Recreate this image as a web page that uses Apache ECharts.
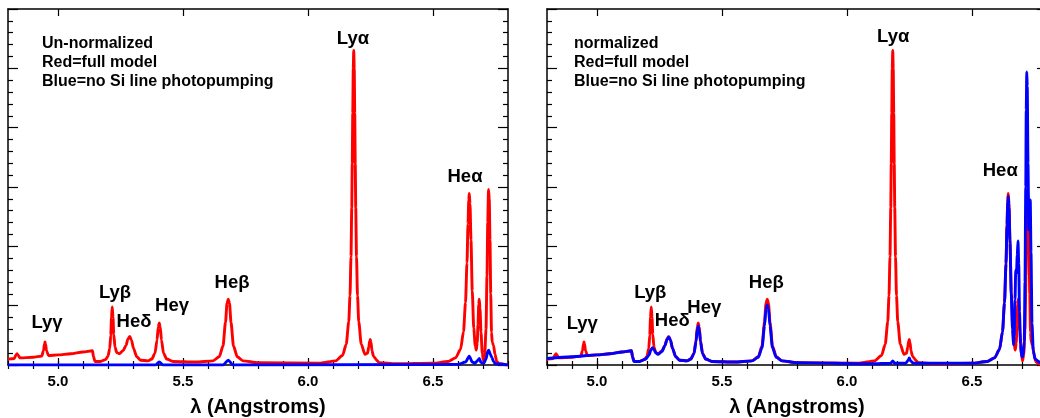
<!DOCTYPE html>
<html>
<head>
<meta charset="utf-8">
<script src="https://cdn.jsdelivr.net/npm/echarts@6/dist/echarts.min.js"></script>
<style>
  html, body { margin: 0; padding: 0; background: #fff; }
  #chart { width: 1040px; height: 418px; }
</style>
</head>
<body>
<div id="chart"></div>
<script>
// wavelength range and ticks
const xMin = 4.8, xMax = 6.8, xMinorStep = 0.1;
const xMajorTicks = [5.0, 5.5, 6.0, 6.5];
const yMin = 0, yMax = 6, yStep = 1;

// red = full model (same curve in both panels)
const redFull = [
  [4.80, 0.10], [4.825, 0.11], [4.831, 0.16], [4.836, 0.19], [4.841, 0.16], [4.848, 0.12],
  [4.90, 0.13], [4.935, 0.15], [4.942, 0.24], [4.946, 0.36], [4.948, 0.39], [4.950, 0.36],
  [4.954, 0.24], [4.962, 0.16], [5.00, 0.17], [5.05, 0.19], [5.10, 0.22], [5.138, 0.24],
  [5.142, 0.14], [5.148, 0.06], [5.17, 0.06], [5.19, 0.09], [5.200, 0.15], [5.207, 0.28],
  [5.211, 0.50], [5.214, 0.80], [5.217, 0.98], [5.220, 0.80], [5.223, 0.52], [5.228, 0.30],
  [5.235, 0.21], [5.245, 0.19], [5.26, 0.24], [5.272, 0.33], [5.280, 0.44], [5.287, 0.48],
  [5.294, 0.42], [5.302, 0.28], [5.315, 0.14], [5.33, 0.08], [5.36, 0.07], [5.375, 0.10],
  [5.388, 0.20], [5.396, 0.42], [5.401, 0.64], [5.405, 0.71], [5.409, 0.64], [5.414, 0.42],
  [5.422, 0.20], [5.435, 0.10], [5.46, 0.06], [5.55, 0.05], [5.62, 0.07], [5.645, 0.14],
  [5.660, 0.32], [5.670, 0.72], [5.676, 1.04], [5.681, 1.11], [5.686, 1.04], [5.692, 0.72],
  [5.702, 0.32], [5.717, 0.14], [5.74, 0.07], [5.80, 0.04], [6.05, 0.03], [6.11, 0.07],
  [6.138, 0.16], [6.153, 0.35], [6.163, 0.73], [6.168, 1.17], [6.172, 1.83], [6.175, 2.65],
  [6.177, 3.39], [6.179, 4.24], [6.181, 4.99], [6.183, 5.30], [6.185, 4.99], [6.187, 4.24],
  [6.189, 3.39], [6.191, 2.65], [6.194, 1.83], [6.198, 1.17], [6.203, 0.73], [6.213, 0.35],
  [6.228, 0.18], [6.238, 0.20], [6.243, 0.30], [6.247, 0.41], [6.249, 0.43], [6.252, 0.38],
  [6.256, 0.24], [6.262, 0.15], [6.268, 0.12], [6.272, 0.09], [6.285, 0.04], [6.35, 0.02],
  [6.50, 0.03], [6.56, 0.06], [6.59, 0.12], [6.610, 0.26], [6.622, 0.56], [6.630, 1.05],
  [6.636, 1.72], [6.640, 2.38], [6.643, 2.78], [6.645, 2.89], [6.648, 2.72], [6.652, 2.10],
  [6.657, 1.25], [6.663, 0.62], [6.669, 0.32], [6.673, 0.25], [6.677, 0.38], [6.680, 0.68],
  [6.683, 1.02], [6.685, 1.11], [6.688, 0.95], [6.692, 0.55], [6.697, 0.20], [6.702, 0.07],
  [6.707, 0.18], [6.712, 0.60], [6.716, 1.50], [6.719, 2.40], [6.722, 2.96], [6.725, 2.80],
  [6.728, 2.10], [6.731, 1.20], [6.734, 0.55], [6.737, 0.38], [6.742, 0.33], [6.748, 0.18],
  [6.755, 0.06], [6.765, 0.02], [6.80, 0.0]
];

// blue = no Si line photopumping, un-normalized (left panel)
const blueRaw = [
  [4.80, 0.0], [5.39, 0.0], [5.405, 0.05], [5.42, 0.0], [5.66, 0.0], [5.681, 0.08],
  [5.70, 0.0], [6.60, 0.01], [6.630, 0.05], [6.645, 0.15], [6.657, 0.05], [6.668, 0.03],
  [6.680, 0.08], [6.685, 0.11], [6.692, 0.04], [6.703, 0.03], [6.712, 0.10], [6.719, 0.23],
  [6.723, 0.25], [6.729, 0.18], [6.735, 0.13], [6.742, 0.06], [6.75, 0.02], [6.80, 0.0]
];

// blue normalized (right panel)
const blueNorm = [
  [4.80, 0.11], [4.90, 0.14], [5.00, 0.17], [5.05, 0.19], [5.10, 0.22], [5.138, 0.24],
  [5.142, 0.14], [5.148, 0.06], [5.17, 0.06], [5.195, 0.10], [5.208, 0.17], [5.216, 0.26],
  [5.222, 0.29], [5.228, 0.26], [5.236, 0.20], [5.245, 0.18], [5.26, 0.23], [5.272, 0.33],
  [5.280, 0.43], [5.287, 0.47], [5.294, 0.42], [5.302, 0.28], [5.315, 0.14], [5.33, 0.08],
  [5.36, 0.07], [5.375, 0.10], [5.388, 0.19], [5.396, 0.39], [5.401, 0.59], [5.405, 0.66],
  [5.409, 0.59], [5.414, 0.39], [5.422, 0.19], [5.435, 0.10], [5.46, 0.06], [5.55, 0.05],
  [5.62, 0.07], [5.645, 0.13], [5.660, 0.29], [5.670, 0.66], [5.676, 0.95], [5.681, 1.01],
  [5.686, 0.95], [5.692, 0.66], [5.702, 0.29], [5.717, 0.13], [5.74, 0.07], [5.80, 0.04],
  [6.10, 0.02], [6.175, 0.03], [6.183, 0.07], [6.19, 0.03], [6.235, 0.03], [6.245, 0.08],
  [6.249, 0.12], [6.254, 0.07], [6.265, 0.03], [6.50, 0.03], [6.56, 0.06], [6.59, 0.12],
  [6.610, 0.26], [6.622, 0.56], [6.630, 1.05], [6.636, 1.70], [6.640, 2.35], [6.643, 2.74],
  [6.645, 2.84], [6.648, 2.66], [6.652, 2.05], [6.657, 1.20], [6.662, 0.60], [6.666, 0.34],
  [6.669, 0.48], [6.672, 1.10], [6.675, 1.60], [6.678, 1.55], [6.681, 1.85], [6.684, 2.09],
  [6.687, 1.70], [6.690, 0.90], [6.694, 0.35], [6.699, 0.14], [6.704, 0.14], [6.709, 0.40],
  [6.712, 1.40], [6.715, 3.00], [6.717, 4.30], [6.719, 4.94], [6.721, 4.70], [6.724, 3.40],
  [6.727, 2.28], [6.730, 2.60], [6.733, 2.78], [6.736, 1.90], [6.740, 0.70], [6.745, 0.25],
  [6.752, 0.10], [6.77, 0.05], [6.80, 0.0]
];

// line identifications
const lineNames = ['Lyγ', 'Lyβ', 'Heδ', 'Heγ', 'Heβ', 'Lyα', 'Heα'];
const leftLabelX = [4.956, 5.228, 5.304, 5.456, 5.696, 6.180, 6.628];
const leftLabelY = [0.71, 1.21, 0.72, 0.99, 1.38, 5.49, 3.17];
const rightLabelX = [4.941, 5.213, 5.301, 5.429, 5.677, 6.185, 6.613];
const rightLabelY = [0.69, 1.21, 0.74, 0.96, 1.38, 5.53, 3.27];

const panelNotes = [
  'Un-normalized\nRed=full model\nBlue=no Si line photopumping',
  'normalized\nRed=full model\nBlue=no Si line photopumping'
];

const FONT = '"Liberation Sans", Arial, Helvetica, sans-serif';
const INK = '#000';
const grids = [
  { left: 8, top: 9, width: 500, height: 356, outerBoundsMode: 'none', containLabel: false },
  { left: 547, top: 9, width: 500, height: 356, outerBoundsMode: 'none', containLabel: false }
];

function makeXAxes(gi) {
  const base = {
    gridIndex: gi, type: 'value', min: xMin, max: xMax,
    axisLine: { show: true, onZero: false, lineStyle: { color: INK, width: 1.5 } },
    splitLine: { show: false }
  };
  const axes = [];
  ['bottom', 'top'].forEach(pos => {
    // major ticks (and labels on the bottom)
    axes.push(Object.assign({}, base, {
      position: pos,
      axisTick: { inside: true, length: 7, customValues: xMajorTicks, lineStyle: { color: INK, width: 1.2 } },
      axisLabel: pos === 'bottom' ? {
        show: true, margin: 9, fontSize: 15, fontWeight: 'bold', color: INK, fontFamily: FONT,
        customValues: xMajorTicks, formatter: v => v.toFixed(1)
      } : { show: false },
      name: pos === 'bottom' ? 'λ (Angstroms)' : '',
      nameLocation: 'middle', nameGap: 32,
      nameTextStyle: { fontSize: 20, fontWeight: 'bold', color: INK, fontFamily: FONT }
    }));
    // minor ticks every 0.1
    axes.push(Object.assign({}, base, {
      position: pos, interval: xMinorStep,
      axisLine: { show: false },
      axisTick: { inside: true, length: 4, lineStyle: { color: INK, width: 1.2 } },
      axisLabel: { show: false }
    }));
  });
  return axes;
}

function makeYAxes(gi) {
  const base = {
    gridIndex: gi, type: 'value', min: yMin, max: yMax, interval: yStep,
    axisLine: { show: true, onZero: false, lineStyle: { color: INK, width: 1.5 } },
    axisTick: { inside: true, length: 10, lineStyle: { color: INK, width: 1.2 } },
    minorTick: { show: true, splitNumber: 5, length: 5, lineStyle: { color: INK, width: 1.2 } },
    axisLabel: { show: false },
    splitLine: { show: false }
  };
  return [
    Object.assign({}, base, { position: 'left' }),
    Object.assign({}, base, { position: 'right' })
  ];
}

function curve(data, color, xi, yi) {
  return {
    type: 'line', data: data, xAxisIndex: xi, yAxisIndex: yi,
    showSymbol: false, smooth: 0.25, smoothMonotone: 'x',
    lineStyle: { color: color, width: 2.9 },
    silent: true
  };
}

function labels(xs, ys, xi, yi) {
  return {
    type: 'scatter', xAxisIndex: xi, yAxisIndex: yi, symbolSize: 1,
    itemStyle: { color: 'rgba(0,0,0,0)' },
    data: lineNames.map((n, i) => ({ name: n, value: [xs[i], ys[i]] })),
    label: {
      show: true, position: 'inside', formatter: p => p.name,
      fontSize: 18.5, fontWeight: 'bold', color: INK, fontFamily: FONT,
      textBorderWidth: 0, opacity: 1
    },
    silent: true, z: 5
  };
}

const chart = echarts.init(document.getElementById('chart'), null, { renderer: 'canvas' });
chart.setOption({
  animation: false,
  backgroundColor: '#fff',
  grid: grids,
  xAxis: makeXAxes(0).concat(makeXAxes(1)),
  yAxis: makeYAxes(0).concat(makeYAxes(1)),
  series: [
    curve(redFull, '#ff0000', 0, 0),
    curve(blueRaw, '#0000ff', 0, 0),
    labels(leftLabelX, leftLabelY, 0, 0),
    curve(redFull, '#ff0000', 4, 2),
    curve(blueNorm, '#0000ff', 4, 2),
    labels(rightLabelX, rightLabelY, 4, 2)
  ],
  graphic: [
    { type: 'text', left: 42, top: 34, style: { text: panelNotes[0], font: 'bold 16px ' + FONT, fill: INK, lineHeight: 19 } },
    { type: 'text', left: 574, top: 34, style: { text: panelNotes[1], font: 'bold 16px ' + FONT, fill: INK, lineHeight: 19 } }
  ]
});
</script>
</body>
</html>
